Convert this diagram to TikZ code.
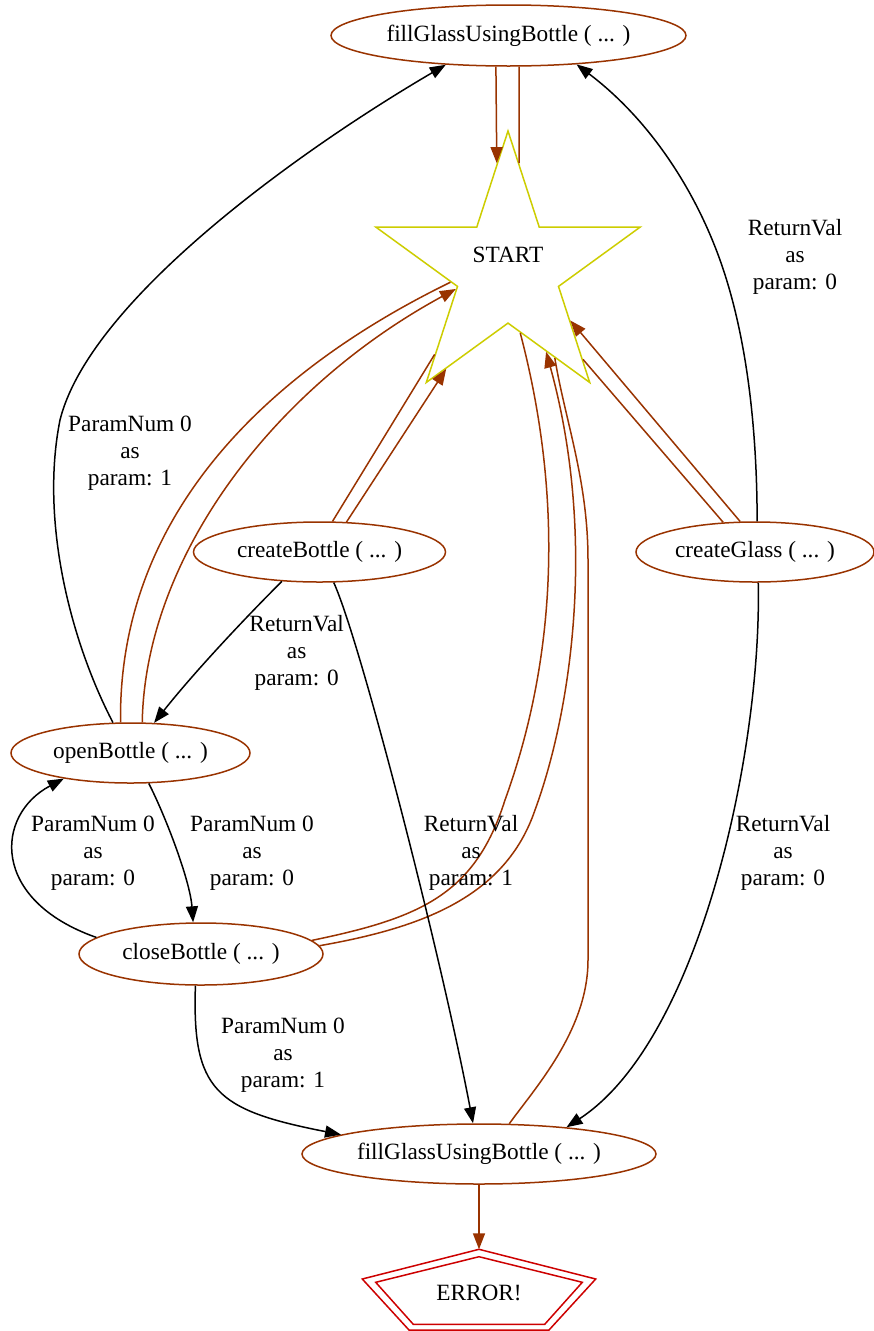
\documentclass[tikz,border=0pt]{standalone}
\usepackage{fontspec}
\setmainfont{Liberation Serif}
\usepackage{tikz}
\usetikzlibrary{arrows.meta,shapes.geometric}
\definecolor{brn}{HTML}{993300}
\definecolor{ylw}{HTML}{CDCD00}
\definecolor{errred}{HTML}{CD0000}
\newcommand{\gvfont}{\fontsize{23.3}{27}\selectfont}

\begin{document}
\begin{tikzpicture}[x=1pt, y=-1pt,
  fn/.style={draw=brn, ellipse, line width=1.5pt, minimum height=60pt, inner sep=0pt, font=\gvfont},
  startstar/.style={draw=ylw, star, star points=5, star point ratio=2.618, minimum size=278pt, inner sep=0pt, line width=1.5pt},
  lbl/.style={font=\gvfont, align=center, inner sep=0pt},
  errline/.style={draw=errred, line width=1.5pt, line join=miter},
  call/.style={-{Triangle[length=16pt,width=12pt]}, line width=1.5pt},
  back/.style={brn, -{Triangle[length=16pt,width=12pt]}, line width=1.5pt},
  bline/.style={brn, line width=1.5pt}]
  \useasboundingbox[fill=white] (0,0) rectangle (874,1331);
  % nodes
  \node[fn, minimum width=355pt, minimum height=61pt] (fillTop) at (508.5,35.5) {fillGlassUsingBottle ( ... )};
  \node[startstar, label={[font=\gvfont, yshift=15pt]center:START}] (start) at (508,270) {};
  \node[fn, minimum width=252pt] (createB) at (319.5,552) {createBottle ( ... )};
  \node[fn, minimum width=238pt] (createG) at (755,552) {createGlass ( ... )};
  \node[fn, minimum width=239pt] (openB) at (130.5,753) {openBottle ( ... )};
  \node[fn, minimum width=244pt, minimum height=62pt] (closeB) at (201,954) {closeBottle ( ... )};
  \node[fn, minimum width=354pt] (fillB) at (479,1154) {fillGlassUsingBottle ( ... )};
  \node[font=\gvfont, inner sep=0pt] (err) at (479,1293) {ERROR!};
  \draw[errline] ([shift={(0,-43.7)}]err.center) coordinate (errtop) -- ([shift={(116.7,-14)}]err.center) -- ([shift={(70,37)}]err.center) -- ([shift={(-70,37)}]err.center) -- ([shift={(-116.7,-14)}]err.center) -- cycle;
  \draw[errline] ([shift={(0,-36.3)}]err.center) -- ([shift={(103.3,-10.7)}]err.center) -- ([shift={(65.7,31.3)}]err.center) -- ([shift={(-65.7,31.3)}]err.center) -- ([shift={(-103.3,-10.7)}]err.center) -- cycle;

  % edges to and from START
  \draw[back] (fillTop.248.9) -- (start.96.2);
  \draw[bline] (start.84) -- (fillTop.-71);
  \draw[bline] (openB.108.1) .. controls (118,520) and (260,375) .. (start.192.2);
  \draw[back] (openB.69.5) .. controls (145,560) and (270,390) .. (start.200.4);
  \draw[bline] (createB.67.9) -- (start.229.3);
  \draw[back] (createB.48.2) -- (start.238.8);
  \draw[bline] (createG.137.9) -- (start.-50.2);
  \draw[back] (createG.116.7) -- (start.-39.4);
  \draw[bline] (closeB.7.9) .. controls (420,918) and (475,895) .. (505,800) .. controls (545,690) and (572,530) .. (start.-79);
  \draw[back] (closeB.4.3) .. controls (420,928) and (505,898) .. (535,810) .. controls (570,715) and (598,540) .. (start.-65.7);
  \draw[bline] (fillB.45.3) .. controls (535,1088) and (588,1030) .. (588,960) -- (588,560) .. controls (588,480) and (565,420) .. (start.-62.3);

  % parameter edges
  \draw[call] (openB.120.5) .. controls (70,640) and (40,520) .. (60,420) .. controls (90,300) and (300,150) .. (fillTop.205.5);
  \draw[call] (createG.86.2) .. controls (757,420) and (745,330) .. (720,260) .. controls (695,190) and (650,120) .. (fillTop.-23.7);
  \draw[call] (createB.218) .. controls (258,605) and (200,665) .. (openB.52.3);
  \draw[call] (createB.-65.2) .. controls (360,640) and (440,950) .. (fillB.101.9);
  \draw[call] (createG.-84.5) .. controls (762,750) and (700,1040) .. (fillB.17);
  \draw[call] (openB.-59.1) .. controls (165,815) and (190,880) .. (closeB.104);
  \draw[call] (closeB.171.2) .. controls (-10,900) and (-5,815) .. (openB.201);
  \draw[call] (closeB.-100.9) .. controls (192,1090) and (215,1110) .. (fillB.172.4);
  \draw[back] (fillB.south) -- (errtop);

  % labels
  \node[lbl] (l1) at (130,453.3) {ParamNum 0\\as\\param: 1};
  \node[lbl] (l2) at (795,256.7) {ReturnVal\\as\\param: 0};
  \node[lbl] (l3) at (296.7,653.3) {ReturnVal\\as\\param: 0};
  \node[lbl] (l4) at (252,853.3) {ParamNum 0\\as\\param: 0};
  \node[lbl] (l5) at (93,853.3) {ParamNum 0\\as\\param: 0};
  \node[lbl] (l6) at (471,853.3) {ReturnVal\\as\\param: 1};
  \node[lbl] (l7) at (783,853.3) {ReturnVal\\as\\param: 0};
  \node[lbl] (l8) at (283,1055) {ParamNum 0\\as\\param: 1};
\end{tikzpicture}
\end{document}
